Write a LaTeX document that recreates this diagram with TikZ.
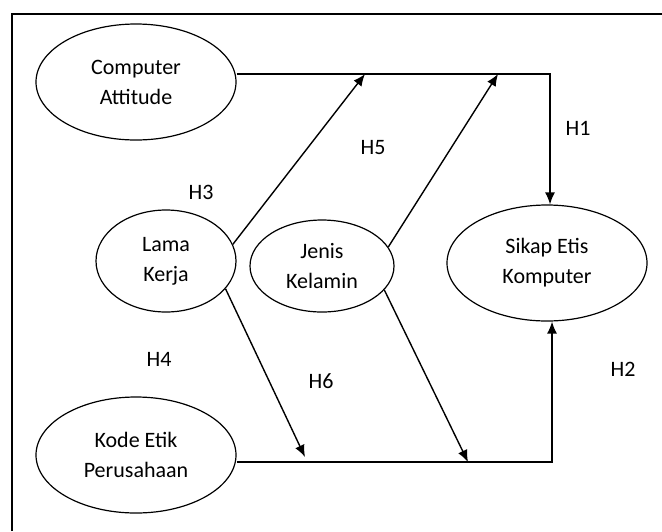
\documentclass[tikz,border=0pt]{standalone}
\usepackage{fontspec}
\setmainfont{Carlito}
\usetikzlibrary{shapes.geometric, arrows.meta}

\begin{document}
\begin{tikzpicture}[x=0.5pt, y=-0.5pt]
		\tikzstyle {var} = [ellipse, draw, line width=0.6pt, inner sep=0pt, align=center, font=\fontsize{11}{15}\selectfont]
		\tikzstyle {hyp} = [font=\fontsize{11}{13}\selectfont]
		\tikzstyle {path line} = [line width=0.7pt, -{Latex[length=6pt, width=5pt]}]

		\useasboundingbox (0,0) rectangle (662,531);
		\draw[line width=0.9pt] (12,531) -- (12,14) -- (662,14);

		\node[var, minimum width=100pt, minimum height=58pt] (ca) at (136,82) {Computer\\Attitude};
		\node[var, minimum width=70pt, minimum height=51pt] (lk) at (166,261) {Lama\\Kerja};
		\node[var, minimum width=72pt, minimum height=46pt] (jk) at (322,266) {Jenis\\Kelamin};
		\node[var, minimum width=100pt, minimum height=58pt] (sek) at (547,263) {Sikap Etis\\Komputer};
		\node[var, minimum width=100pt, minimum height=58pt] (kep) at (136,455) {Kode Etik\\Perusahaan};

		\coordinate (top) at (550,74);
		\coordinate (bot) at (552,462);
		\coordinate (t1) at (365,74);
		\coordinate (t2) at (498,74);
		\coordinate (b1) at (305,457);
		\coordinate (b2) at (468,462);

		\draw[path line] (ca.east |- top) -- (top) -- (top |- sek.north);
		\draw[path line] (kep.east |- bot) -- (bot) -- (bot |- sek.south);

		\draw[path line] (lk.14) -- (t1);
		\draw[path line] (jk.16) -- (t2);
		\draw[path line] (lk.-25) -- (b1);
		\draw[path line] (jk.-21) -- (b2);

		\node[hyp] (h1) at (578,128) {H1};
		\node[hyp] (h2) at (623,369) {H2};
		\node[hyp] (h3) at (201,192) {H3};
		\node[hyp] (h4) at (159,359) {H4};
		\node[hyp] (h5) at (373,148) {H5};
		\node[hyp] (h6) at (321,381) {H6};
	\end{tikzpicture}
\end{document}
